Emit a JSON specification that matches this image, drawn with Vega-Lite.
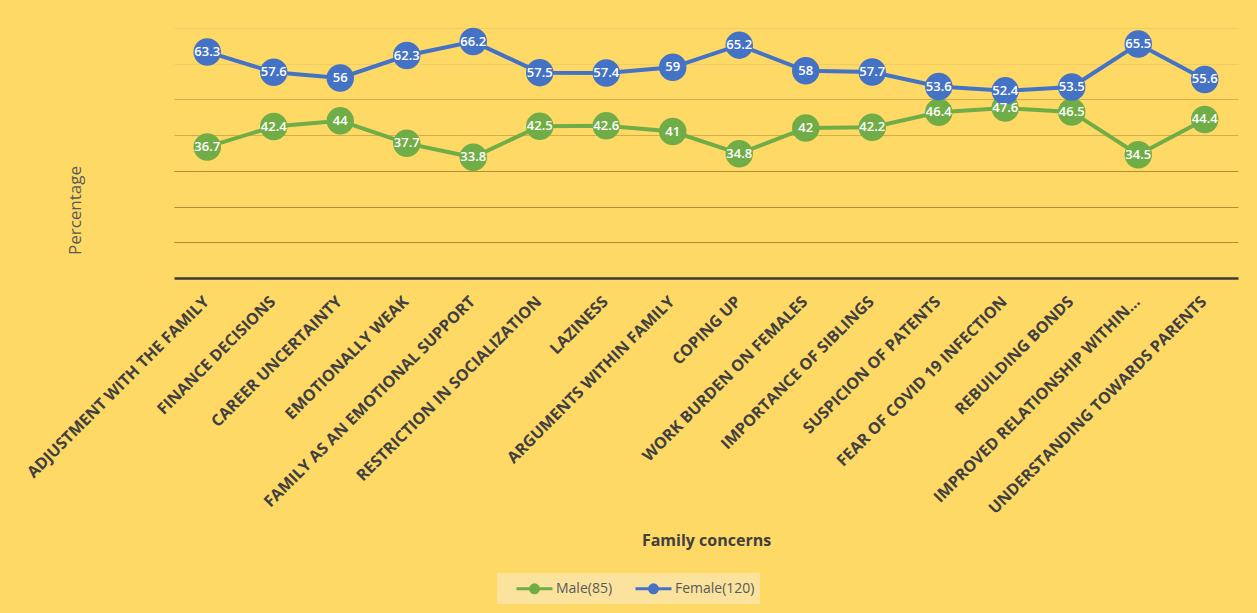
{
  "$schema": "https://vega.github.io/schema/vega-lite/v6.json",
  "width": 1064,
  "height": 250,
  "autosize": {"type": "none"},
  "padding": {"left": 174, "top": 28, "right": 19, "bottom": 335},
  "background": "#FFD966",
  "config": {"view": {"stroke": null}, "font": "Open Sans"},
  "data": {
    "values": [
      {"concern": "ADJUSTMENT WITH THE FAMILY", "series": "Male(85)", "value": 36.7},
      {"concern": "FINANCE DECISIONS", "series": "Male(85)", "value": 42.4},
      {"concern": "CAREER UNCERTAINTY", "series": "Male(85)", "value": 44},
      {"concern": "EMOTIONALLY WEAK", "series": "Male(85)", "value": 37.7},
      {"concern": "FAMILY AS AN EMOTIONAL SUPPORT", "series": "Male(85)", "value": 33.8},
      {"concern": "RESTRICTION IN SOCIALIZATION", "series": "Male(85)", "value": 42.5},
      {"concern": "LAZINESS", "series": "Male(85)", "value": 42.6},
      {"concern": "ARGUMENTS WITHIN FAMILY", "series": "Male(85)", "value": 41},
      {"concern": "COPING UP", "series": "Male(85)", "value": 34.8},
      {"concern": "WORK BURDEN ON FEMALES", "series": "Male(85)", "value": 42},
      {"concern": "IMPORTANCE OF SIBLINGS", "series": "Male(85)", "value": 42.2},
      {"concern": "SUSPICION OF PATENTS", "series": "Male(85)", "value": 46.4},
      {"concern": "FEAR OF COVID 19 INFECTION", "series": "Male(85)", "value": 47.6},
      {"concern": "REBUILDING BONDS", "series": "Male(85)", "value": 46.5},
      {"concern": "IMPROVED RELATIONSHIP WITHIN...", "series": "Male(85)", "value": 34.5},
      {"concern": "UNDERSTANDING TOWARDS PARENTS", "series": "Male(85)", "value": 44.4},
      {"concern": "ADJUSTMENT WITH THE FAMILY", "series": "Female(120)", "value": 63.3},
      {"concern": "FINANCE DECISIONS", "series": "Female(120)", "value": 57.6},
      {"concern": "CAREER UNCERTAINTY", "series": "Female(120)", "value": 56},
      {"concern": "EMOTIONALLY WEAK", "series": "Female(120)", "value": 62.3},
      {"concern": "FAMILY AS AN EMOTIONAL SUPPORT", "series": "Female(120)", "value": 66.2},
      {"concern": "RESTRICTION IN SOCIALIZATION", "series": "Female(120)", "value": 57.5},
      {"concern": "LAZINESS", "series": "Female(120)", "value": 57.4},
      {"concern": "ARGUMENTS WITHIN FAMILY", "series": "Female(120)", "value": 59},
      {"concern": "COPING UP", "series": "Female(120)", "value": 65.2},
      {"concern": "WORK BURDEN ON FEMALES", "series": "Female(120)", "value": 58},
      {"concern": "IMPORTANCE OF SIBLINGS", "series": "Female(120)", "value": 57.7},
      {"concern": "SUSPICION OF PATENTS", "series": "Female(120)", "value": 53.6},
      {"concern": "FEAR OF COVID 19 INFECTION", "series": "Female(120)", "value": 52.4},
      {"concern": "REBUILDING BONDS", "series": "Female(120)", "value": 53.5},
      {"concern": "IMPROVED RELATIONSHIP WITHIN...", "series": "Female(120)", "value": 65.5},
      {"concern": "UNDERSTANDING TOWARDS PARENTS", "series": "Female(120)", "value": 55.6}
    ]
  },
  "encoding": {
    "x": {
      "field": "concern",
      "type": "nominal",
      "sort": null,
      "axis": {
        "title": "Family concerns",
        "titleFontSize": 16,
        "titleFontWeight": "bold",
        "titleColor": "#404040",
        "titleY": 262,
        "titleBaseline": "middle",
        "labelAngle": -45,
        "labelFontSize": 16,
        "labelFontWeight": "bold",
        "labelColor": "#404040",
        "labelPadding": 15,
        "labelOffset": -7,
        "labelLimit": 0,
        "ticks": false,
        "grid": false,
        "domainColor": "#3A3A3A",
        "domainWidth": 2.5
      }
    },
    "y": {
      "field": "value",
      "type": "quantitative",
      "scale": {"domain": [0, 70], "nice": false},
      "axis": {
        "title": "Percentage",
        "titleFontSize": 17,
        "titleFontWeight": "normal",
        "titleColor": "#595959",
        "titlePadding": 90,
        "titleY": 182,
        "titleAlign": "center",
        "labels": false,
        "ticks": false,
        "domain": false,
        "grid": true,
        "values": [10, 20, 30, 40, 50, 60, 70],
        "gridColor": {
          "condition": [
            {"test": "datum.value >= 60", "value": "#EFCB6A"},
            {"test": "datum.value >= 40", "value": "#D4AE4A"}
          ],
          "value": "#B08E2E"
        },
        "gridWidth": 1
      }
    }
  },
  "layer": [
    {
      "mark": {"type": "line", "strokeWidth": 4},
      "encoding": {
        "color": {
          "field": "series",
          "type": "nominal",
          "sort": ["Male(85)", "Female(120)"],
          "scale": {"domain": ["Male(85)", "Female(120)"], "range": ["#70AD47", "#4472C4"]},
          "legend": {
            "orient": "none",
            "legendX": 323,
            "legendY": 545,
            "direction": "horizontal",
            "title": null,
            "fillColor": "#FBE39E",
            "padding": 5,
            "columnPadding": 8,
            "labelFontSize": 14,
            "labelColor": "#595959",
            "labelFont": "Open Sans",
            "symbolType": "M -2 0 L -0.4 0 M 0.4 0 L 2 0 M -0.44 0 A 0.44 0.44 0 1 0 0.44 0 A 0.44 0.44 0 1 0 -0.44 0 Z",
            "symbolSize": 324,
            "symbolStrokeWidth": 3,
            "symbolOffset": 22,
            "labelOffset": 11,
            "encode": {
              "symbols": {
                "update": {
                  "fill": {"scale": "color", "field": "value"},
                  "stroke": {"scale": "color", "field": "value"},
                  "fillOpacity": {"value": 1}
                }
              }
            }
          }
        }
      }
    },
    {
      "mark": {"type": "point", "filled": true, "size": 755, "opacity": 1, "strokeWidth": 0},
      "encoding": {
        "color": {"field": "series", "type": "nominal", "sort": ["Male(85)", "Female(120)"]}
      }
    },
    {
      "mark": {"type": "text", "color": "white", "fontSize": 13, "fontWeight": 600, "font": "Open Sans"},
      "encoding": {
        "text": {"field": "value", "type": "quantitative"}
      }
    }
  ]
}
